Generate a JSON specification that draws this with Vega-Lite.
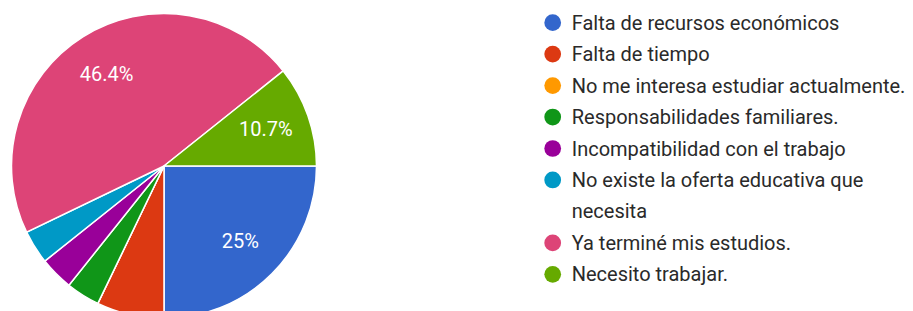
{
  "$schema": "https://vega.github.io/schema/vega-lite/v6.json",
  "padding": 0,
  "background": "white",
  "config": {"view": {"stroke": null}, "font": "Roboto"},
  "datasets": {
    "resp": [
      {"k": 1, "name": "Falta de recursos económicos", "count": 7, "pct": "25%"},
      {"k": 2, "name": "Falta de tiempo", "count": 2, "pct": "7.1%"},
      {"k": 3, "name": "No me interesa estudiar actualmente.", "count": 0, "pct": "0%"},
      {"k": 4, "name": "Responsabilidades familiares.", "count": 1, "pct": "3.6%"},
      {"k": 5, "name": "Incompatibilidad con el trabajo", "count": 1, "pct": "3.6%"},
      {"k": 6, "name": "No existe la oferta educativa que\nnecesita", "count": 1, "pct": "3.6%"},
      {"k": 7, "name": "Ya terminé mis estudios.", "count": 13, "pct": "46.4%"},
      {"k": 8, "name": "Necesito trabajar.", "count": 3, "pct": "10.7%"}
    ]
  },
  "spacing": 204.7,
  "hconcat": [
    {
      "width": 328,
      "height": 332,
      "data": {"name": "resp"},
      "encoding": {
        "theta": {"field": "count", "type": "quantitative", "stack": true, "scale": {"range": [1.5707963, 7.8539816]}},
        "order": {"field": "k", "type": "quantitative"}
      },
      "layer": [
        {
          "mark": {"type": "arc", "outerRadius": 152.5, "stroke": "white", "strokeWidth": 1.5},
          "encoding": {
            "color": {
              "field": "name", "type": "nominal", "legend": null,
              "scale": {
                "domain": ["Falta de recursos económicos", "Falta de tiempo", "No me interesa estudiar actualmente.", "Responsabilidades familiares.", "Incompatibilidad con el trabajo", "No existe la oferta educativa que\nnecesita", "Ya terminé mis estudios.", "Necesito trabajar."],
                "range": ["#3366cc", "#dc3912", "#ff9900", "#109618", "#990099", "#0099c6", "#dd4477", "#66aa00"]
              }
            }
          }
        },
        {
          "mark": {"type": "text", "radius": 108, "fontSize": 20, "fill": "white", "align": "center", "baseline": "middle"},
          "encoding": {
            "detail": {"field": "name", "type": "nominal"},
            "text": {"field": "pct", "type": "nominal"},
            "opacity": {"condition": {"test": "datum.count < 3", "value": 0}, "value": 1}
          }
        }
      ]
    },
    {
      "width": 40,
      "height": 297,
      "data": {"name": "resp"},
      "encoding": {
        "y": {
          "field": "name", "type": "nominal", "axis": null,
          "scale": {
            "type": "point", "padding": 0.72,
            "domain": ["Falta de recursos económicos", "Falta de tiempo", "No me interesa estudiar actualmente.", "Responsabilidades familiares.", "Incompatibilidad con el trabajo", "No existe la oferta educativa que\nnecesita", "(gap)", "Ya terminé mis estudios.", "Necesito trabajar."]
          }
        }
      },
      "layer": [
        {
          "mark": {"type": "point", "shape": "circle", "filled": true, "size": 280, "opacity": 1, "strokeWidth": 0},
          "encoding": {
            "color": {
              "field": "name", "type": "nominal", "legend": null,
              "scale": {
                "domain": ["Falta de recursos económicos", "Falta de tiempo", "No me interesa estudiar actualmente.", "Responsabilidades familiares.", "Incompatibilidad con el trabajo", "No existe la oferta educativa que\nnecesita", "Ya terminé mis estudios.", "Necesito trabajar."],
                "range": ["#3366cc", "#dc3912", "#ff9900", "#109618", "#990099", "#0099c6", "#dd4477", "#66aa00"]
              }
            }
          }
        },
        {
          "mark": {"type": "text", "align": "left", "baseline": "alphabetic", "dx": 19, "dy": 7, "fontSize": 20, "lineBreak": "\n", "lineHeight": 31.5, "color": "#2a2a2a"},
          "encoding": {"text": {"field": "name", "type": "nominal"}}
        }
      ]
    }
  ]
}
